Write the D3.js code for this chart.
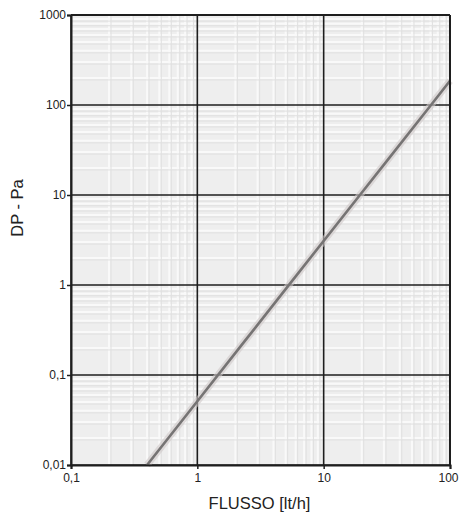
<!DOCTYPE html>
<html><head><meta charset="utf-8">
<script src="https://cdn.jsdelivr.net/npm/d3@7"></script>
<style>body{margin:0;background:#fff}svg{display:block}</style>
</head><body>
<svg id="c" width="462" height="519"></svg>
<script>
const flow = [0.4, 1, 5, 20, 70, 100];
const dp = [0.01, 0.051, 0.9, 10.6, 98, 186];
const xTicks = [0.1, 1, 10, 100];
const xTickLabels = ["0,1", "1", "10", "100"];
const yTicks = [0.01, 0.1, 1, 10, 100, 1000];
const yTickLabels = ["0,01", "0,1", "1", "10", "100", "1000"];
const xTitle = "FLUSSO [lt/h]";
const yTitle = "DP - Pa";

const svg = d3.select("#c");
const m = {l: 71, t: 15, r: 12, b: 54};
const W = 462 - m.l - m.r, H = 519 - m.t - m.b;
const x = d3.scaleLog().domain([0.1, 100]).range([0, W]);
const y = d3.scaleLog().domain([0.01, 1000]).range([H, 0]);
const g = svg.append("g").attr("transform", `translate(${m.l},${m.t})`);

g.append("rect").attr("width", W).attr("height", H).attr("fill", "#eeeeee");

// minor grid
const minorX = [], minorY = [];
for (let d = 0.1; d < 100; d *= 10) for (let k = 2; k <= 9; k++) minorX.push(d * k);
for (let d = 0.01; d < 1000; d *= 10) for (let k = 2; k <= 9; k++) minorY.push(d * k);
g.selectAll(".mx").data(minorX).join("line")
  .attr("x1", d => x(d)).attr("x2", d => x(d)).attr("y1", 0).attr("y2", H)
  .attr("stroke", "#f9f9f9").attr("stroke-width", 2);
g.selectAll(".my").data(minorY).join("line")
  .attr("y1", d => y(d)).attr("y2", d => y(d)).attr("x1", 0).attr("x2", W)
  .attr("stroke", "#f9f9f9").attr("stroke-width", 2);
g.selectAll(".mx2").data(minorX).join("line")
  .attr("x1", d => x(d) + 2).attr("x2", d => x(d) + 2).attr("y1", 0).attr("y2", H)
  .attr("stroke", "#e0e0e0").attr("stroke-width", 1);
g.selectAll(".my2").data(minorY).join("line")
  .attr("y1", d => y(d) + 2).attr("y2", d => y(d) + 2).attr("x1", 0).attr("x2", W)
  .attr("stroke", "#e0e0e0").attr("stroke-width", 1);

// major grid
g.selectAll(".gx").data(xTicks).join("line")
  .attr("x1", d => x(d)).attr("x2", d => x(d)).attr("y1", 0).attr("y2", H)
  .attr("stroke", "#1e1e1e").attr("stroke-width", 1.6);
g.selectAll(".gy").data(yTicks).join("line")
  .attr("y1", d => y(d)).attr("y2", d => y(d)).attr("x1", 0).attr("x2", W)
  .attr("stroke", "#1e1e1e").attr("stroke-width", 1.6);

// curve
const line = d3.line().x((d, i) => x(flow[i])).y(d => y(d)).curve(d3.curveMonotoneX);
g.append("path").attr("d", line(dp)).attr("fill", "none")
  .attr("stroke", "#cfc8c8").attr("stroke-width", 7).attr("stroke-opacity", 0.6);
g.append("path").attr("d", line(dp)).attr("fill", "none")
  .attr("stroke", "#767474").attr("stroke-width", 2.6);

// axes
const xa = g.append("g").attr("transform", `translate(0,${H})`)
  .call(d3.axisBottom(x).tickValues(xTicks).tickFormat((d, i) => xTickLabels[i]).tickSize(4).tickPadding(4));
const ya = g.append("g")
  .call(d3.axisLeft(y).tickValues(yTicks).tickFormat((d, i) => yTickLabels[i]).tickSize(4).tickPadding(1));
[xa, ya].forEach(a => {
  a.select(".domain").attr("stroke", "#1e1e1e").attr("stroke-width", 2);
  a.selectAll(".tick line").attr("stroke", "#1e1e1e").attr("stroke-width", 1.5);
  a.selectAll("text").attr("font-family", "Liberation Sans, Arial, sans-serif")
    .attr("font-size", 12).attr("fill", "#222");
});
ya.selectAll("text").attr("dy", "0.32em");
xa.selectAll(".tick").filter(d => d === 100).select("text").attr("dx", -2);
g.append("line").attr("x1", W).attr("x2", W).attr("y1", 0).attr("y2", H)
  .attr("stroke", "#1e1e1e").attr("stroke-width", 2);
g.append("line").attr("x1", 0).attr("x2", W).attr("y1", 0).attr("y2", 0)
  .attr("stroke", "#1e1e1e").attr("stroke-width", 2);

svg.append("text").attr("x", m.l + W / 2 - 1).attr("y", 509)
  .attr("text-anchor", "middle").attr("font-family", "Liberation Sans, Arial, sans-serif")
  .attr("font-size", 16.5).attr("fill", "#222").text(xTitle);
svg.append("text").attr("transform", `translate(23,208) rotate(-90)`)
  .attr("text-anchor", "middle").attr("font-family", "Liberation Sans, Arial, sans-serif")
  .attr("font-size", 16.5).attr("fill", "#222").text(yTitle);
</script>
</body></html>
